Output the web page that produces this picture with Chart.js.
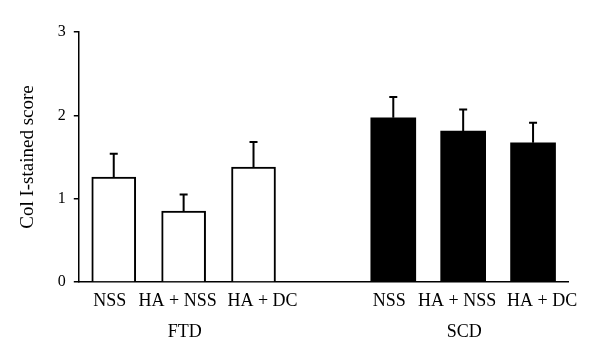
<!DOCTYPE html>
<html>
<head>
<meta charset="utf-8">
<script src="https://cdn.jsdelivr.net/npm/chart.js@4"></script>
<style>
  body { margin: 0; background: #fff; }
  #wrap { width: 600px; height: 360px; }
</style>
</head>
<body>
<div id="wrap"><canvas id="chart" width="600" height="360"></canvas></div>
<script>
// categories (4th slot is the gap between the two groups)
const categories = ['NSS', 'HA + NSS', 'HA + DC', '', 'NSS', 'HA + NSS', 'HA + DC'];
const groupLabels = ['', 'FTD', '', '', '', 'SCD', ''];

// mean scores and upper error (SD) per bar
const ftdValues = [1.26, 0.85, 1.38, null, null, null, null];
const ftdErrors = [0.28, 0.20, 0.30, null, null, null, null];
const scdValues = [null, null, null, null, 1.97, 1.81, 1.67];
const scdErrors = [null, null, null, null, 0.25, 0.26, 0.24];

const yTicks = [0, 1, 2, 3];

const family = '"Liberation Serif", "Times New Roman", serif';

// draw the upper error bars with a cap
const errorBars = {
  id: 'errorBars',
  afterDatasetsDraw(chart) {
    const ctx = chart.ctx;
    const yScale = chart.scales.y;
    chart.data.datasets.forEach((ds, i) => {
      const meta = chart.getDatasetMeta(i);
      meta.data.forEach((bar, j) => {
        const v = ds.data[j];
        const e = ds.errors[j];
        if (v == null || e == null) return;
        const top = yScale.getPixelForValue(v + e);
        ctx.save();
        ctx.strokeStyle = '#000';
        ctx.lineWidth = 2;
        ctx.beginPath();
        ctx.moveTo(bar.x, bar.y);
        ctx.lineTo(bar.x, top);
        ctx.moveTo(bar.x - 4, top);
        ctx.lineTo(bar.x + 4, top);
        ctx.stroke();
        ctx.restore();
      });
    });
  }
};

// category names and group names under the x axis
// (names in the original sit a little off the bar centres)
const labelNudge = [-4, -6, 9, 0, -4, -6, 9];
const xLabels = {
  id: 'xLabels',
  afterDraw(chart) {
    const ctx = chart.ctx;
    const x = chart.scales.x;
    const base = chart.chartArea.bottom;
    ctx.save();
    ctx.fillStyle = '#000';
    ctx.font = '18px ' + family;
    ctx.textAlign = 'center';
    ctx.textBaseline = 'alphabetic';
    categories.forEach((c, i) => {
      const px = x.getPixelForValue(i);
      if (c) ctx.fillText(c, px + labelNudge[i], base + 24);
      if (groupLabels[i]) ctx.fillText(groupLabels[i], px + 1, base + 55);
    });
    ctx.restore();
  }
};

new Chart(document.getElementById('chart'), {
  type: 'bar',
  data: {
    labels: categories,
    datasets: [
      {
        label: 'FTD',
        data: ftdValues,
        errors: ftdErrors,
        backgroundColor: '#fff',
        borderColor: '#000',
        borderWidth: 2,
        barThickness: 44,
        grouped: false
      },
      {
        label: 'SCD',
        data: scdValues,
        errors: scdErrors,
        backgroundColor: '#000',
        borderColor: '#000',
        borderWidth: 0,
        barThickness: 45,
        grouped: false
      }
    ]
  },
  options: {
    responsive: false,
    animation: false,
    layout: { padding: { top: 32, right: 32, left: 17, bottom: 78 } },
    plugins: { legend: { display: false }, tooltip: { enabled: false } },
    scales: {
      x: {
        grid: { display: false, drawTicks: false },
        border: { display: true, color: '#000', width: 1.5 },
        ticks: { display: false }
      },
      y: {
        min: 0,
        max: 3,
        afterBuildTicks: (axis) => { axis.ticks = yTicks.map(v => ({ value: v })); },
        grid: { drawOnChartArea: false, drawTicks: true, tickLength: 5, color: '#000', lineWidth: 1.5 },
        border: { display: true, color: '#000', width: 1.5 },
        ticks: { color: '#000', font: { family: family, size: 16 }, padding: 8 },
        title: {
          display: true,
          text: 'Col I-stained score',
          color: '#000',
          font: { family: family, size: 19 },
          padding: { top: 0, bottom: 10 }
        }
      }
    }
  },
  plugins: [errorBars, xLabels]
});
</script>
</body>
</html>
